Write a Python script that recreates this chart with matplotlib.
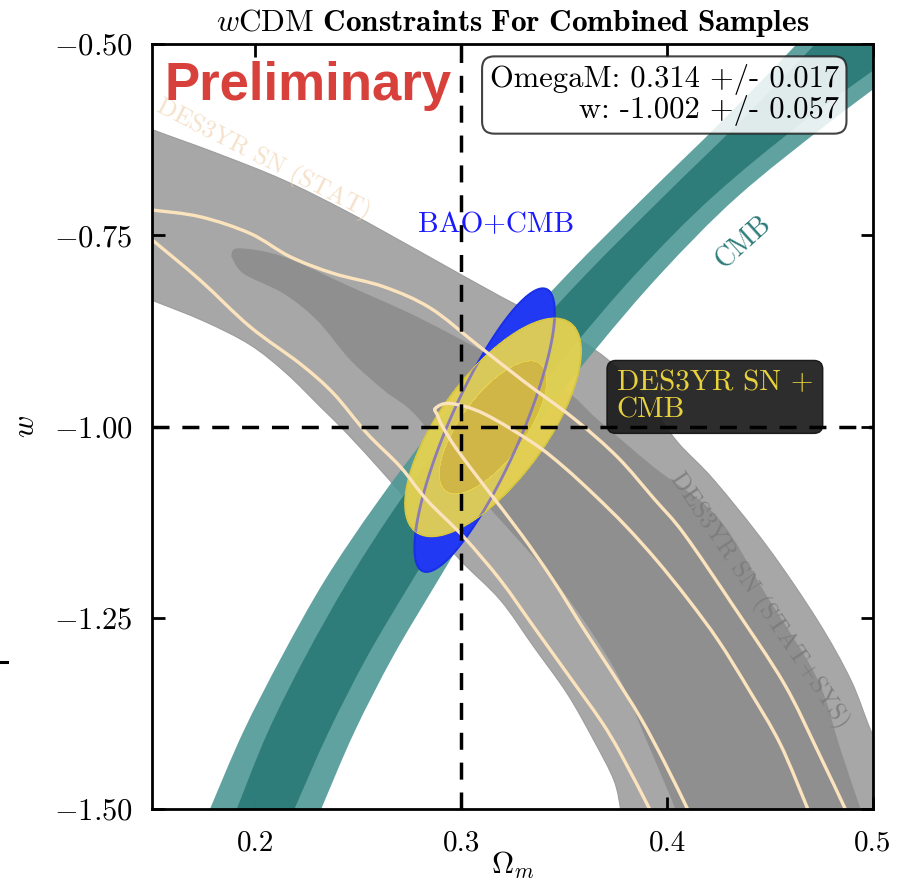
import numpy as np
import matplotlib
matplotlib.use("Agg")
import matplotlib.pyplot as plt
from matplotlib.lines import Line2D
from matplotlib.path import Path
from matplotlib.patches import PathPatch

plt.rcParams['font.family'] = 'serif'
plt.rcParams['font.serif'] = ['cmr10', 'DejaVu Serif']
plt.rcParams['mathtext.fontset'] = 'cm'
plt.rcParams['axes.formatter.use_mathtext'] = True

# ---------------- data ----------------
# CMB band: edges of the 2-sigma (outer) and 1-sigma (inner) regions
cmb_w = [-1.5, -1.4, -1.3, -1.2, -1.1, -1.0, -0.9, -0.8, -0.7, -0.6, -0.5]
cmb_outer_left = [0.178, 0.194, 0.213, 0.234, 0.259, 0.287, 0.318, 0.352, 0.389, 0.427, 0.463]
cmb_inner_left = [0.191, 0.206, 0.2245, 0.2455, 0.2695, 0.297, 0.327, 0.361, 0.398, 0.436, 0.472]
cmb_inner_right = [0.219, 0.2355, 0.2545, 0.2765, 0.2995, 0.3235, 0.353, 0.385, 0.422, 0.467, 0.518]
cmb_outer_right = [0.232, 0.248, 0.267, 0.289, 0.3115, 0.336, 0.365, 0.397, 0.434, 0.480, 0.530]

# DES3YR SN (STAT+SYS), outer region: upper edge and lower edge
sys_outer_upper_om = [0.14, 0.1505, 0.1814, 0.2137, 0.2462, 0.2786, 0.3191, 0.345, 0.371, 0.39, 0.405,
                      0.4228, 0.4487, 0.473, 0.4892, 0.4989, 0.51, 0.52]
sys_outer_upper_w = [-0.60, -0.6124, -0.6429, -0.6778, -0.7213, -0.7693, -0.83, -0.866, -0.912, -0.965,
                     -1.02, -1.07, -1.157, -1.253, -1.331, -1.397, -1.46, -1.52]
sys_outer_lower_om = [0.378, 0.3774, 0.3742, 0.3644, 0.3515, 0.3353, 0.3191, 0.2996, 0.28, 0.262,
                      0.245, 0.232, 0.215, 0.1975, 0.175, 0.15, 0.14]
sys_outer_lower_w = [-1.52, -1.5, -1.462, -1.4098, -1.3488, -1.2878, -1.2268, -1.1745, -1.115, -1.06,
                     -1.01, -0.975, -0.93, -0.893, -0.862, -0.835, -0.825]
# DES3YR SN (STAT+SYS), inner region: upper edge and lower edge
sys_inner_upper_om = [0.1883, 0.192, 0.2137, 0.2462, 0.2786, 0.3191, 0.35, 0.366, 0.3936, 0.4244, 0.4487,
                      0.473, 0.484, 0.494, 0.497]
sys_inner_upper_w = [-0.777, -0.767, -0.778, -0.8172, -0.8565, -0.913, -0.952, -0.99, -1.053, -1.118,
                     -1.2225, -1.33, -1.42, -1.5, -1.52]
sys_inner_lower_om = [0.405, 0.404, 0.39, 0.3774, 0.3627, 0.345, 0.3191, 0.30, 0.2786, 0.2624, 0.2462,
                      0.23, 0.2137, 0.1943, 0.1883]
sys_inner_lower_w = [-1.52, -1.5, -1.41, -1.3314, -1.2661, -1.2007, -1.1222, -1.065, -0.987, -0.9523,
                     -0.913, -0.861, -0.826, -0.80, -0.777]

# DES3YR SN (STAT): contour lines
stat_outer_upper_om = [0.15, 0.1732, 0.1975, 0.217, 0.238, 0.2624, 0.285, 0.3078, 0.33, 0.355, 0.376,
                       0.3936, 0.4082, 0.4325, 0.4568, 0.473, 0.4866]
stat_outer_upper_w = [-0.717, -0.7257, -0.7475, -0.778, -0.7998, -0.8172, -0.845, -0.893, -0.940, -0.990,
                      -1.040, -1.094, -1.140, -1.2356, -1.3357, -1.423, -1.5]
stat_outer_lower_om = [0.15, 0.1732, 0.1975, 0.2219, 0.238, 0.2543, 0.2705, 0.2834, 0.3012, 0.3191, 0.3353,
                       0.3515, 0.3677, 0.3774, 0.3916]
stat_outer_lower_w = [-0.756, -0.8085, -0.8695, -0.918, -0.9566, -1.0089, -1.0525, -1.096, -1.144, -1.2007,
                      -1.2617, -1.3226, -1.3837, -1.427, -1.5]
stat_inner_om = [0.41, 0.399, 0.387, 0.373, 0.3585, 0.3445, 0.329, 0.312, 0.298, 0.291, 0.2885, 0.2875,
                 0.2948, 0.311, 0.3353, 0.35, 0.365, 0.38, 0.395, 0.41, 0.425, 0.44, 0.455, 0.4684]
stat_inner_w = [-1.5, -1.44, -1.38, -1.32, -1.26, -1.20, -1.14, -1.08, -1.03, -1.0, -0.985, -0.976,
                -0.9697, -0.983, -1.022, -1.053, -1.09, -1.13, -1.175, -1.225, -1.28, -1.345, -1.415, -1.5]

# BAO+CMB and DES3YR SN + CMB: Gaussian constraints (mean, sigma, correlation)
bao_mean = [0.3114, -1.0046]
bao_sigma = [0.0137, 0.0745]
bao_rho = 0.83
comb_mean = [0.3155, -1.001]
comb_sigma = [0.0172, 0.0573]
comb_rho = 0.70
chi2_levels = [0.0, 2.30, 6.18]

fiducial_om = 0.3
fiducial_w = -1.0

x_ticks = [0.2, 0.3, 0.4, 0.5]
x_ticklabels = ['0.2', '0.3', '0.4', '0.5']
y_ticks = [-1.5, -1.25, -1.0, -0.75, -0.5]
y_ticklabels = [r'$-1.50$', r'$-1.25$', r'$-1.00$', r'$-0.75$', r'$-0.50$']
result_text = "OmegaM: 0.314 +/- 0.017\nw: -1.002 +/- 0.057"


# ---------------- helpers: smooth (Catmull-Rom) Bezier paths through the points ----------------
def _curve(xs, ys):
    p = np.column_stack([xs, ys]).astype(float)
    n = len(p)
    verts = [p[0]]
    for i in range(n - 1):
        p0 = p[i - 1] if i > 0 else p[i]
        p1, p2 = p[i], p[i + 1]
        p3 = p[i + 2] if i + 2 < n else p[i + 1]
        verts += [p1 + (p2 - p0) / 6.0, p2 - (p3 - p1) / 6.0, p2]
    return verts


def smooth_path(pieces, closed=True):
    verts, codes = [], []
    for k, (xs, ys) in enumerate(pieces):
        v = _curve(xs, ys)
        verts += v
        codes += [Path.MOVETO if k == 0 else Path.LINETO] + [Path.CURVE4] * (len(v) - 1)
    if closed:
        verts.append(verts[0])
        codes.append(Path.CLOSEPOLY)
    return Path(np.array(verts), codes)


# ---------------- figure ----------------
fig = plt.figure(figsize=(9.06, 8.83), dpi=100)
ax = fig.add_axes([0.1680, 0.0835, 0.7956, 0.8667])
ax.set_xlim(0.15, 0.5)
ax.set_ylim(-1.5, -0.5)

# SN (STAT+SYS)
ax.add_patch(PathPatch(smooth_path([(sys_outer_upper_om, sys_outer_upper_w),
                                    (sys_outer_lower_om, sys_outer_lower_w)]),
                       fc='#a7a7a7', ec='#9c9c9c', lw=0.8, zorder=1))
ax.add_patch(PathPatch(smooth_path([(sys_inner_upper_om, sys_inner_upper_w),
                                    (sys_inner_lower_om, sys_inner_lower_w)]),
                       fc='#8f8f8f', ec='none', lw=0, zorder=1.1))

# CMB
ax.add_patch(PathPatch(smooth_path([(cmb_outer_left, cmb_w), (cmb_outer_right[::-1], cmb_w[::-1])]),
                       fc='#4f9896', ec='none', alpha=0.9, zorder=2))
ax.add_patch(PathPatch(smooth_path([(cmb_inner_left, cmb_w), (cmb_inner_right[::-1], cmb_w[::-1])]),
                       fc='#2d7b79', ec='none', alpha=0.95, zorder=2.1))

# Gaussian contours
gx = np.linspace(0.15, 0.5, 700)
gy = np.linspace(-1.5, -0.5, 700)
GX, GY = np.meshgrid(gx, gy)


def chi2(mean, sigma, rho):
    dx = (GX - mean[0]) / sigma[0]
    dy = (GY - mean[1]) / sigma[1]
    return (dx ** 2 - 2 * rho * dx * dy + dy ** 2) / (1 - rho ** 2)


bao_chi2 = chi2(bao_mean, bao_sigma, bao_rho)
comb_chi2 = chi2(comb_mean, comb_sigma, comb_rho)
ax.contourf(GX, GY, bao_chi2, levels=chi2_levels, colors=['#2039f2', '#2239f4'], zorder=3)
ax.contour(GX, GY, bao_chi2, levels=[chi2_levels[2]], colors=['#1a30e6'], linewidths=1.5, zorder=3.05)
ax.contourf(GX, GY, comb_chi2, levels=chi2_levels, colors=['#dec13a', '#e8d44e'], alpha=0.93, zorder=3.1)
comb_edge = ax.contour(GX, GY, comb_chi2, levels=[chi2_levels[2]], colors=['#d6c640'],
                       linewidths=1.2, zorder=3.15)
bao_through = ax.contour(GX, GY, bao_chi2, levels=[chi2_levels[2]], colors=['#8374bf'],
                         linewidths=2.0, alpha=0.9, zorder=3.2)
bao_through.set_clip_path(comb_edge.get_paths()[0], transform=ax.transData)

# STAT lines
for xs, ys in [(stat_outer_upper_om, stat_outer_upper_w),
               (stat_outer_lower_om, stat_outer_lower_w),
               (stat_inner_om, stat_inner_w)]:
    ax.add_patch(PathPatch(smooth_path([(xs, ys)], closed=False), fill=False,
                           ec='#fbe3bd', lw=2.4, zorder=4, capstyle='round'))

# fiducial lines
ax.axvline(fiducial_om, color='black', lw=2.5, dashes=(4.9, 3.7), zorder=6)
ax.axhline(fiducial_w, color='black', lw=2.5, dashes=(4.9, 3.7), zorder=6)

# labels in the plot
ax.text(0.1562, -0.5732, 'Preliminary', family='Liberation Sans', fontweight='bold',
        fontsize=38, color='#d8413b', ha='left', va='baseline', zorder=8)
ax.text(0.4834, -0.5667, result_text, fontsize=22, ha='right', va='center', multialignment='right',
        linespacing=1.0, zorder=8,
        bbox=dict(boxstyle='round,pad=0.25,rounding_size=0.4', fc='white', ec='#222222', lw=1.5, alpha=0.85))
ax.text(0.3169, -0.7366, 'BAO+CMB', fontsize=21, color='#1a1aff', ha='center', va='center', zorder=7)
ax.text(0.4373, -0.760, 'CMB', fontsize=20, color='#2d7b79', ha='center', va='center', rotation=42, zorder=7)
ax.text(0.2041, -0.6516, 'DES3YR SN (STAT)', fontsize=18, color='#f2d7b8', alpha=0.75,
        ha='center', va='center', rotation=-27, zorder=7)
ax.text(0.4445, -1.2268, 'DES3YR SN (STAT+SYS)', fontsize=18, color='#7a7a7a', alpha=0.85,
        ha='center', va='center', rotation=-56, zorder=7)
ax.text(0.3755, -0.9261, 'DES3YR SN +\nCMB', fontsize=21, color='#e8d23c', ha='left', va='top',
        linespacing=1.05, zorder=5,
        bbox=dict(boxstyle='round,pad=0.33,rounding_size=0.3', fc='#1b1b1b', ec='#111111', lw=1, alpha=0.92))

# axes styling
ax.set_xticks(x_ticks)
ax.set_xticklabels(x_ticklabels)
ax.set_yticks(y_ticks)
ax.set_yticklabels(y_ticklabels)
ax.tick_params(direction='in', length=9, width=2, top=True, right=True)
ax.tick_params(axis='x', pad=15, labelsize=21)
ax.tick_params(axis='y', pad=14, labelsize=22)
for s in ax.spines.values():
    s.set_linewidth(2)
    s.set_zorder(9)
ax.set_xlabel(r'$\Omega_m$', fontsize=22, labelpad=-5)
ax.set_ylabel(r'$w$', fontsize=22, labelpad=10)
ax.set_title(r'$w\mathrm{CDM}\ \mathbf{Constraints\ For\ Combined\ Samples}$', fontsize=22.5, pad=9)

# stray mark at the left edge of the picture
fig.add_artist(Line2D([0.0, 0.008], [1 - 662 / 883, 1 - 662 / 883], color='black', lw=2.2,
                      transform=fig.transFigure))

fig.savefig('out.png', dpi=100)
